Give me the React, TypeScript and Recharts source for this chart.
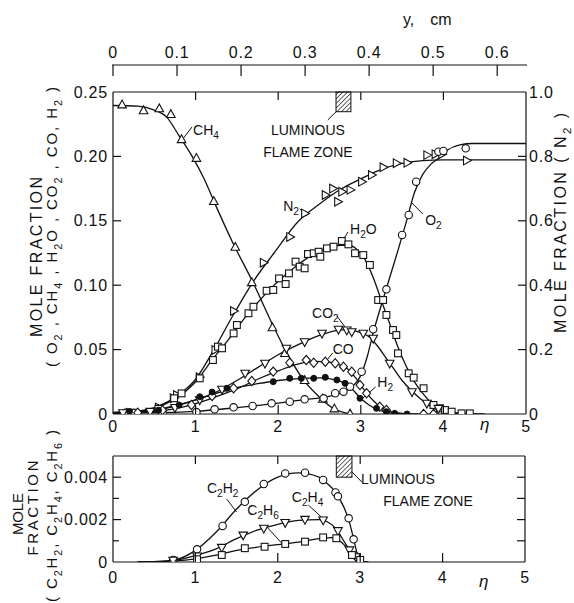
import React from 'react';
import {
  ComposedChart,
  Line,
  Scatter,
  XAxis,
  YAxis,
  ReferenceArea,
  ReferenceLine,
  ReferenceDot,
} from 'recharts';

const FONT = '"Liberation Sans", Arial, sans-serif';
const INK = '#111';

type Pt = [number, number];

// axis ticks
const etaTicks = [0, 1, 2, 3, 4, 5];
const cmTicks = [0, 0.1, 0.2, 0.3, 0.4, 0.5, 0.6];
const upperLeftTicks = [0, 0.05, 0.1, 0.15, 0.2, 0.25];
const upperRightTicks = [0, 0.2, 0.4, 0.6, 0.8, 1.0];
const lowerTicks = [0, 0.001, 0.002, 0.003, 0.004];
const lowerLabelled = [0, 0.002, 0.004];
const lowerRightTicks = [0.001, 0.002, 0.003, 0.004];

// upper plot: eta vs mole fraction (faired curve + measured points)
const ch4Curve: Pt[] = [[0, 0.2395], [0.3, 0.239], [0.5, 0.236], [0.65, 0.2305], [0.8, 0.216], [0.95, 0.201], [1.1, 0.183], [1.25, 0.161], [1.45, 0.133], [1.7, 0.1015], [1.95, 0.067], [2.1, 0.048], [2.3, 0.027], [2.5, 0.013], [2.65, 0.005], [2.8, 0.001], [2.9, 0]];
const ch4Pts: Pt[] = [[0.11, 0.24], [0.37, 0.2355], [0.56, 0.237], [0.7, 0.2325], [0.83, 0.213], [1.01, 0.1985], [1.22, 0.165], [1.48, 0.1295], [1.68, 0.102], [1.93, 0.067], [2.08, 0.047], [2.32, 0.026], [2.54, 0.0115], [2.68, 0.004], [2.87, 0]];

const n2Curve: Pt[] = [[0, 0.005], [0.25, 0.008], [0.5, 0.02], [0.7, 0.043], [0.85, 0.07], [1.0, 0.108], [1.2, 0.19], [1.45, 0.305], [1.7, 0.412], [1.95, 0.5], [2.25, 0.6], [2.5, 0.652], [2.75, 0.697], [3.0, 0.73], [3.25, 0.76], [3.5, 0.778], [3.75, 0.787], [4.0, 0.789], [5, 0.789]];
const n2Pts: Pt[] = [[0.2, 0.004], [0.55, 0.02], [0.73, 0.049], [0.77, 0.059], [1.045, 0.114], [1.235, 0.199], [1.46, 0.32], [1.82, 0.47], [2.14, 0.55], [2.32, 0.623], [2.57, 0.68], [2.66, 0.7], [2.72, 0.659], [2.77, 0.69], [2.87, 0.696], [3.01, 0.721], [3.13, 0.742], [3.27, 0.766], [3.43, 0.779], [3.56, 0.78], [3.8, 0.804], [3.9, 0.807], [3.98, 0.807], [4.28, 0.787]];

const h2oCurve: Pt[] = [[0, 0.001], [0.3, 0.002], [0.5, 0.004], [0.7, 0.01], [0.85, 0.016], [1.0, 0.025], [1.2, 0.042], [1.4, 0.058], [1.6, 0.075], [1.8, 0.09], [2.0, 0.103], [2.2, 0.114], [2.4, 0.123], [2.6, 0.1285], [2.75, 0.131], [2.85, 0.131], [2.95, 0.128], [3.05, 0.12], [3.15, 0.106], [3.25, 0.088], [3.35, 0.07], [3.45, 0.052], [3.55, 0.037], [3.65, 0.025], [3.75, 0.016], [3.85, 0.009], [3.95, 0.005], [4.1, 0.0015], [4.3, 0.0003], [4.5, 0]];
const h2oPts: Pt[] = [[0.25, 0.001], [0.55, 0.004], [0.74, 0.0122], [0.83, 0.016], [1.05, 0.0277], [1.21, 0.0419], [1.27, 0.0523], [1.32, 0.051], [1.46, 0.0626], [1.5, 0.0691], [1.64, 0.0782], [1.7, 0.0833], [1.86, 0.0957], [1.94, 0.0963], [2.01, 0.1053], [2.09, 0.1009], [2.13, 0.1092], [2.21, 0.1183], [2.26, 0.1144], [2.32, 0.1131], [2.36, 0.1242], [2.43, 0.1248], [2.49, 0.126], [2.51, 0.1221], [2.59, 0.1286], [2.67, 0.1299], [2.77, 0.1343], [2.85, 0.1317], [2.93, 0.1248], [3.03, 0.1234], [3.11, 0.1157], [3.21, 0.0885], [3.27, 0.0885], [3.31, 0.0769], [3.39, 0.0652], [3.43, 0.0613], [3.45, 0.0471], [3.58, 0.0316], [3.64, 0.0282], [3.76, 0.02], [3.88, 0.007], [3.96, 0.0044], [4.02, 0.0031], [4.1, 0.0018], [4.22, 0.0005], [4.32, 0.0005]];

const o2Curve: Pt[] = [[0, 0.001], [0.5, 0.001], [1.0, 0.002], [1.5, 0.005], [2.0, 0.0085], [2.3, 0.011], [2.6, 0.0135], [2.8, 0.0175], [2.9, 0.0215], [3.0, 0.03], [3.08, 0.045], [3.15, 0.063], [3.25, 0.085], [3.35, 0.106], [3.45, 0.127], [3.55, 0.149], [3.65, 0.172], [3.75, 0.186], [3.85, 0.194], [3.95, 0.199], [4.05, 0.205], [4.2, 0.209], [4.35, 0.21], [5, 0.21]];
const o2Pts: Pt[] = [[0.15, 0.001], [0.25, 0.0008], [0.6, 0.001], [1.01, 0.0015], [1.23, 0.0036], [1.46, 0.0052], [1.69, 0.0062], [1.92, 0.0083], [2.14, 0.0095], [2.32, 0.0114], [2.55, 0.0122], [2.69, 0.0161], [2.79, 0.0173], [2.87, 0.0212], [3.01, 0.0328], [3.15, 0.0658], [3.31, 0.0968], [3.5, 0.139], [3.58, 0.1545], [3.67, 0.1804], [3.94, 0.2037], [4.0, 0.2042], [4.27, 0.2063]];

const co2Curve: Pt[] = [[0, 0.001], [0.5, 0.003], [0.75, 0.006], [1.0, 0.011], [1.25, 0.017], [1.5, 0.026], [1.75, 0.036], [2.0, 0.046], [2.25, 0.054], [2.5, 0.061], [2.7, 0.0648], [2.85, 0.0655], [3.0, 0.063], [3.1, 0.06], [3.2, 0.053], [3.3, 0.044], [3.4, 0.035], [3.5, 0.026], [3.6, 0.019], [3.7, 0.013], [3.8, 0.008], [3.9, 0.004], [4.0, 0.002], [4.2, 0.0003], [4.4, 0]];
const co2Pts: Pt[] = [[0.12, 0.001], [0.45, 0.002], [0.75, 0.005], [1.05, 0.011], [1.32, 0.0192], [1.6, 0.0316], [1.84, 0.0394], [2.1, 0.051], [2.32, 0.0561], [2.53, 0.0627], [2.73, 0.0658], [2.83, 0.0652], [2.89, 0.0639], [3.03, 0.0627], [3.15, 0.0588], [3.35, 0.0394], [3.62, 0.0173], [3.8, 0.0083], [3.94, 0.0044]];

const coCurve: Pt[] = [[0, 0], [0.5, 0.002], [0.75, 0.004], [1.0, 0.008], [1.25, 0.0135], [1.5, 0.0195], [1.75, 0.027], [2.0, 0.0335], [2.25, 0.039], [2.45, 0.0408], [2.6, 0.0405], [2.75, 0.038], [2.85, 0.0345], [2.95, 0.027], [3.05, 0.018], [3.15, 0.0105], [3.25, 0.005], [3.35, 0.002], [3.5, 0.0005], [3.7, 0]];
const coPts: Pt[] = [[0.3, 0.001], [0.6, 0.003], [0.95, 0.007], [1.2, 0.014], [1.46, 0.02], [1.68, 0.0256], [1.94, 0.0329], [2.14, 0.0398], [2.34, 0.0419], [2.43, 0.0398], [2.57, 0.0406], [2.69, 0.0394], [2.79, 0.0367], [2.89, 0.0328], [2.99, 0.0225], [3.07, 0.0161], [3.23, 0.0057], [3.31, 0.0031], [3.76, 0], [3.88, 0]];

const h2Curve: Pt[] = [[0, 0], [0.5, 0.003], [0.75, 0.0065], [1.0, 0.011], [1.25, 0.016], [1.5, 0.0205], [1.75, 0.0235], [2.0, 0.026], [2.25, 0.0275], [2.5, 0.028], [2.65, 0.027], [2.8, 0.024], [2.9, 0.019], [3.0, 0.012], [3.1, 0.007], [3.2, 0.0035], [3.3, 0.0015], [3.45, 0.0003], [3.6, 0]];
const h2Pts: Pt[] = [[0.2, 0.002], [0.55, 0.003], [0.8, 0.007], [1.05, 0.0134], [1.2, 0.017], [1.38, 0.02], [1.94, 0.0251], [2.14, 0.0277], [2.28, 0.0277], [2.43, 0.0277], [2.57, 0.0285], [2.71, 0.0264], [2.81, 0.0238], [2.99, 0.0122], [3.19, 0.0044], [3.31, 0.0018], [3.41, 0.0005], [3.56, 0]];

// lower plot: C2 hydrocarbons
const c2h2Curve: Pt[] = [[0.3, 0], [0.5, 0.00002], [0.75, 0.0001], [1.0, 0.00055], [1.25, 0.0014], [1.5, 0.0025], [1.75, 0.0034], [2.0, 0.004], [2.25, 0.0042], [2.5, 0.004], [2.6, 0.0037], [2.7, 0.0033], [2.8, 0.0026], [2.86, 0.002], [2.92, 0.0011], [2.97, 0.0003], [3.02, 0.00003], [3.1, 0]];
const c2h2Pts: Pt[] = [[0.73, 0.0001], [1.02, 0.0006], [1.33, 0.0017], [1.6, 0.00284], [1.83, 0.00368], [2.09, 0.00418], [2.33, 0.00421], [2.55, 0.00387], [2.7, 0.00328], [2.73, 0.0031], [2.86, 0.00206], [2.92, 0.00107], [2.96, 0.00025]];

const c2h4Curve: Pt[] = [[0.3, 0], [0.5, 0.00001], [0.75, 0.00008], [1.0, 0.0003], [1.25, 0.00062], [1.5, 0.0011], [1.75, 0.0015], [2.0, 0.00178], [2.25, 0.00196], [2.5, 0.002], [2.6, 0.0019], [2.7, 0.0016], [2.8, 0.001], [2.88, 0.0005], [2.95, 0.0001], [3.0, 0]];
const c2h4Pts: Pt[] = [[0.73, 0.00008], [1.02, 0.00028], [1.32, 0.00069], [1.58, 0.00127], [1.83, 0.00159], [2.09, 0.00186], [2.33, 0.00201], [2.55, 0.00198], [2.73, 0.00148], [2.87, 0.00057], [2.95, 0.00025]];

const c2h6Curve: Pt[] = [[0.3, 0], [0.5, 0.00001], [0.75, 0.00005], [1.0, 0.00015], [1.25, 0.00032], [1.5, 0.00055], [1.75, 0.0007], [2.0, 0.00082], [2.25, 0.00094], [2.5, 0.0011], [2.65, 0.00115], [2.75, 0.001], [2.85, 0.0006], [2.92, 0.0002], [2.98, 0.00003], [3.05, 0]];
const c2h6Pts: Pt[] = [[1.02, 0.00013], [1.32, 0.00033], [1.6, 0.00065], [1.84, 0.00072], [2.09, 0.00085], [2.33, 0.00096], [2.55, 0.00116], [2.71, 0.00112], [2.9, 0.00033], [3.0, 0.0001]];

const upperSeries = [
  { name: 'ch4', curve: ch4Curve, pts: ch4Pts, mark: 'triUp', axis: 'left' },
  { name: 'n2', curve: n2Curve, pts: n2Pts, mark: 'triRight', axis: 'right' },
  { name: 'h2o', curve: h2oCurve, pts: h2oPts, mark: 'square', axis: 'left' },
  { name: 'o2', curve: o2Curve, pts: o2Pts, mark: 'circle', axis: 'left' },
  { name: 'co2', curve: co2Curve, pts: co2Pts, mark: 'triDown', axis: 'left' },
  { name: 'co', curve: coCurve, pts: coPts, mark: 'diamond', axis: 'left' },
  { name: 'h2', curve: h2Curve, pts: h2Pts, mark: 'dot', axis: 'left' },
];

const lowerSeries = [
  { name: 'c2h2', curve: c2h2Curve, pts: c2h2Pts, mark: 'circle' },
  { name: 'c2h4', curve: c2h4Curve, pts: c2h4Pts, mark: 'triDown' },
  { name: 'c2h6', curve: c2h6Curve, pts: c2h6Pts, mark: 'square' },
];

// annotation placement (data coordinates)
const upperNotes = [
  { text: 'CH_4', at: [0.97, 0.2205], lead: [[0.835, 0.2127], [0.956, 0.2228]] },
  { text: 'N_2', at: [2.06, 0.1615], lead: [[2.26, 0.1592], [2.35, 0.1537]] },
  { text: 'H_2O', at: [2.87, 0.1436], lead: [[2.845, 0.1413], [2.76, 0.1328]] },
  { text: 'O_2', at: [3.78, 0.1506], lead: [[3.75, 0.1553], [3.62, 0.1638]] },
  { text: 'CO_2', at: [2.41, 0.0784], lead: [[2.71, 0.0761], [2.81, 0.0675]] },
  { text: 'CO', at: [2.66, 0.0505], lead: [[2.66, 0.0474], [2.58, 0.0411]] },
  { text: 'H_2', at: [3.2, 0.0248], lead: [[3.18, 0.021], [3.01, 0.0116]] },
];
const lowerNotes = [
  { text: 'C_2H_2', at: [1.14, 0.00349], lead: [[1.38, 0.00297], [1.5, 0.00236]] },
  { text: 'C_2H_6', at: [1.63, 0.00245], lead: [[1.88, 0.0016], [2.09, 0.00071]] },
  { text: 'C_2H_4', at: [2.17, 0.00307], lead: [[2.37, 0.00269], [2.54, 0.00208]] },
];

const xy = (a: Pt[]) => a.map(([x, y]) => ({ x, y }));

function chemSpans(text: string, size: number) {
  const parts: { t: string; sub: boolean }[] = [];
  let buf = '';
  for (let i = 0; i < text.length; i++) {
    if (text[i] === '_') {
      if (buf) parts.push({ t: buf, sub: false });
      buf = '';
      parts.push({ t: text[i + 1], sub: true });
      i++;
    } else buf += text[i];
  }
  if (buf) parts.push({ t: buf, sub: false });
  let cur = 0;
  const shift = Math.round(size * 0.3);
  return parts.map((p, i) => {
    const target = p.sub ? shift : 0;
    const dy = target - cur;
    cur = target;
    return (
      <tspan key={i} dy={dy} fontSize={p.sub ? size * 0.72 : size}>
        {p.t}
      </tspan>
    );
  });
}

function ChemText({ x, y, text, size = 14, anchor = 'start' }: any) {
  return (
    <text x={x} y={y} fontFamily={FONT} fontSize={size} fill={INK} textAnchor={anchor}>
      {chemSpans(text, size)}
    </text>
  );
}

function VText({ x, y, text, size, length }: any) {
  return (
    <text
      x={x}
      y={y}
      transform={`rotate(-90 ${x} ${y})`}
      textAnchor="middle"
      fontFamily={FONT}
      fontSize={size}
      fill={INK}
      textLength={length}
      lengthAdjust="spacing"
    >
      {chemSpans(text, size)}
    </text>
  );
}

function Marker({ cx, cy, kind }: any) {
  if (cx == null || cy == null) return null;
  const s = { stroke: INK, strokeWidth: 1.1, fill: '#fff' };
  switch (kind) {
    case 'circle':
      return <circle cx={cx} cy={cy} r={3.7} {...s} />;
    case 'dot':
      return <circle cx={cx} cy={cy} r={3} fill={INK} stroke={INK} />;
    case 'triUp':
      return <polygon points={`${cx},${cy - 4.8} ${cx - 4.3},${cy + 3} ${cx + 4.3},${cy + 3}`} {...s} />;
    case 'triDown':
      return <polygon points={`${cx},${cy + 4.8} ${cx - 4.3},${cy - 3} ${cx + 4.3},${cy - 3}`} {...s} />;
    case 'triRight':
      return <polygon points={`${cx + 4.8},${cy} ${cx - 3},${cy - 4.3} ${cx - 3},${cy + 4.3}`} {...s} />;
    case 'square':
      return <rect x={cx - 3.4} y={cy - 3.4} width={6.8} height={6.8} {...s} />;
    case 'diamond':
      return <polygon points={`${cx},${cy - 4.6} ${cx + 4},${cy} ${cx},${cy + 4.6} ${cx - 4},${cy}`} {...s} />;
    default:
      return null;
  }
}

const tickFont = { fontFamily: FONT, fontSize: 16, fill: INK, letterSpacing: 0.8 };

const leftTick = (fmt: (v: number) => string, labelled: number[] | null, top: number) => (p: any) => {
  const v = p.payload.value;
  const showLabel = !labelled || labelled.includes(v);
  const len = showLabel ? 8 : 6;
  return (
    <g>
      {v > 0 && v < top && <line x1={p.x} x2={p.x + len} y1={p.y} y2={p.y} stroke={INK} strokeWidth={1.2} />}
      {showLabel && (
        <text x={p.x - 5} y={p.y + 5.5} textAnchor="end" {...tickFont}>
          {fmt(v)}
        </text>
      )}
    </g>
  );
};

const rightTick = (fmt: ((v: number) => string) | null, top: number) => (p: any) => {
  const v = p.payload.value;
  return (
    <g>
      {v > 0 && v < top && <line x1={p.x} x2={p.x - 8} y1={p.y} y2={p.y} stroke={INK} strokeWidth={1.2} />}
      {fmt && (
        <text x={p.x + 3} y={p.y + 5.5} textAnchor="start" {...tickFont}>
          {fmt(v)}
        </text>
      )}
    </g>
  );
};

const bottomTick = (plotH: number, labelDy: number) => (p: any) => {
  const v = p.payload.value;
  const inner = v > 0 && v < 5;
  return (
    <g>
      {inner && <line x1={p.x} x2={p.x} y1={p.y} y2={p.y - 9} stroke={INK} strokeWidth={1.2} />}
      {inner && <line x1={p.x} x2={p.x} y1={p.y - plotH} y2={p.y - plotH + 8} stroke={INK} strokeWidth={1.2} />}
      <text x={p.x} y={p.y + labelDy} textAnchor="middle" {...tickFont}>
        {v}
      </text>
    </g>
  );
};

const cmTick = (p: any) => {
  const v = p.payload.value;
  return (
    <g>
      <line x1={p.x} x2={p.x} y1={p.y - 27} y2={p.y - 16} stroke={INK} strokeWidth={1.2} />
      <text x={p.x} y={p.y - 34} textAnchor="middle" {...tickFont}>
        {v === 0 ? '0' : v.toFixed(1)}
      </text>
    </g>
  );
};

const vbOf = (p: any) => p.viewBox || { x: 0, y: 0, width: 0, height: 0 };

const cmLabel = (p: any) => {
  const vb = vbOf(p);
  const ly = vb.y + vb.height - 27;
  return (
    <g>
      <line x1={vb.x - 1} x2={vb.x + vb.width + 1} y1={ly} y2={ly} stroke={INK} strokeWidth={1.2} />
      <text x={vb.x + vb.width * 0.702} y={vb.y + 25} fontFamily={FONT} fontSize={16} fill={INK}>
        <tspan>y,</tspan>
        <tspan dx={16}>cm</tspan>
      </text>
    </g>
  );
};

const etaLabel = (dy: number) => (p: any) => {
  const vb = vbOf(p);
  return (
    <text x={vb.x + vb.width * 0.9} y={vb.y + dy} textAnchor="middle" fontFamily={FONT} fontSize={17} fontStyle="italic" fill={INK}>
      η
    </text>
  );
};

const upperLeftTitle = (p: any) => {
  const vb = vbOf(p);
  return (
    <g>
      <VText x={vb.x + 42} y={vb.y + 165} text="MOLE FRACTION" size={16} length={160} />
      <VText x={vb.x + 57} y={vb.y + 135} text="( O_2 , CH_4 , H_2O , CO_2 , CO, H_2 )" size={15} length={280} />
    </g>
  );
};

const upperRightTitle = (p: any) => {
  const vb = vbOf(p);
  return <VText x={vb.x + 40} y={vb.y + 131} text="MOLE FRACTION ( N_2 )" size={16} length={220} />;
};

const lowerLeftTitle = (p: any) => {
  const vb = vbOf(p);
  return (
    <g>
      <VText x={vb.x + 23} y={vb.y + 58} text="MOLE" size={15} length={42} />
      <VText x={vb.x + 38} y={vb.y + 52} text="FRACTION" size={15} length={95} />
      <VText x={vb.x + 57} y={vb.y + 60} text="( C_2H_2, C_2H_4, C_2H_6 )" size={15} length={172} />
    </g>
  );
};

const hatchShape = (id: string) => (p: any) => (
  <g>
    <defs>
      <pattern id={id} width={3.2} height={3.2} patternUnits="userSpaceOnUse" patternTransform="rotate(45)">
        <line x1={0} y1={0} x2={0} y2={3.2} stroke={INK} strokeWidth={1.3} />
      </pattern>
    </defs>
    <rect x={p.x} y={p.y} width={p.width} height={p.height} fill={`url(#${id})`} stroke={INK} strokeWidth={1} />
  </g>
);

function renderNotes(notes: any[], yId: string, keyBase: string) {
  return notes.flatMap((n, i) => [
    <ReferenceLine
      key={`${keyBase}l${i}`}
      xAxisId="eta"
      yAxisId={yId}
      segment={[{ x: n.lead[0][0], y: n.lead[0][1] }, { x: n.lead[1][0], y: n.lead[1][1] }]}
      stroke={INK}
      strokeWidth={1}
    />,
    <ReferenceDot
      key={`${keyBase}t${i}`}
      xAxisId="eta"
      yAxisId={yId}
      x={n.at[0]}
      y={n.at[1]}
      r={0}
      shape={(p: any) => <ChemText x={p.cx} y={p.cy + 5} text={n.text} />}
    />,
  ]);
}

const textDot = (key: string, yId: string, x: number, y: number, text: string, anchor: string) => (
  <ReferenceDot
    key={key}
    xAxisId="eta"
    yAxisId={yId}
    x={x}
    y={y}
    r={0}
    shape={(p: any) => <ChemText x={p.cx} y={p.cy + 5} text={text} anchor={anchor} />}
  />
);

export default function App() {
  const lineProps = {
    dataKey: 'y',
    type: 'monotone' as const,
    stroke: INK,
    strokeWidth: 1.3,
    dot: false,
    activeDot: false,
    isAnimationActive: false,
  };
  return (
    <div style={{ position: 'absolute', left: 0, top: 0, width: 574, height: 603, background: '#fff', overflow: 'hidden' }}>
      <div style={{ position: 'absolute', left: 0, top: 0 }}>
        <ComposedChart width={574} height={440} margin={{ top: 0, right: 0, bottom: 0, left: 0 }}>
          <XAxis
            xAxisId="eta"
            dataKey="x"
            type="number"
            domain={[0, 5]}
            ticks={etaTicks}
            interval={0}
            allowDataOverflow
            height={26}
            tickSize={0}
            tickMargin={0}
            axisLine={{ stroke: INK, strokeWidth: 1.2 }}
            tick={bottomTick(322, 18)}
            label={{ content: etaLabel(16) }}
          />
          <XAxis
            xAxisId="cm"
            dataKey="x"
            orientation="top"
            type="number"
            domain={[0, 0.645]}
            ticks={cmTicks}
            interval={0}
            allowDataOverflow
            height={92}
            tickSize={0}
            tickMargin={0}
            axisLine={{ stroke: INK, strokeWidth: 1.2 }}
            tick={cmTick}
            label={{ content: cmLabel }}
          />
          <YAxis
            yAxisId="left"
            type="number"
            domain={[0, 0.25]}
            ticks={upperLeftTicks}
            interval={0}
            allowDataOverflow
            width={113}
            tickSize={0}
            tickMargin={0}
            axisLine={{ stroke: INK, strokeWidth: 1.2 }}
            tick={leftTick((v) => (v === 0 ? '0' : v.toFixed(2)), null, 0.25)}
            label={{ content: upperLeftTitle }}
          />
          <YAxis
            yAxisId="right"
            orientation="right"
            type="number"
            domain={[0, 1]}
            ticks={upperRightTicks}
            interval={0}
            allowDataOverflow
            width={48}
            tickSize={0}
            tickMargin={0}
            axisLine={{ stroke: INK, strokeWidth: 1.2 }}
            tick={rightTick((v) => (v === 0 ? '0' : v.toFixed(1)), 1)}
            label={{ content: upperRightTitle }}
          />

          {/* invisible anchor so the cm axis gets a scale */}
          <Scatter
            xAxisId="cm"
            yAxisId="left"
            data={cmTicks.map((v) => ({ x: v, y: 0 }))}
            dataKey="y"
            shape={() => <g />}
            isAnimationActive={false}
          />

          <ReferenceArea
            xAxisId="eta"
            yAxisId="left"
            x1={2.7}
            x2={2.88}
            y1={0.2347}
            y2={0.25}
            shape={hatchShape('hatchUpper')}
          />
          {textDot('lum1', 'left', 2.36, 0.2205, 'LUMINOUS', 'middle')}
          {textDot('lum2', 'left', 2.36, 0.2034, 'FLAME ZONE', 'middle')}
          <ReferenceLine
            xAxisId="eta"
            yAxisId="left"
            segment={[{ x: 2.6, y: 0.2283 }, { x: 2.71, y: 0.2352 }]}
            stroke={INK}
            strokeWidth={1}
          />

          {upperSeries.map((s) => (
            <Line key={`${s.name}c`} xAxisId="eta" yAxisId={s.axis} data={xy(s.curve)} {...lineProps} />
          ))}
          {upperSeries.map((s) => (
            <Scatter
              key={`${s.name}p`}
              xAxisId="eta"
              yAxisId={s.axis}
              data={xy(s.pts)}
              dataKey="y"
              shape={(p: any) => <Marker cx={p.cx} cy={p.cy} kind={s.mark} />}
              isAnimationActive={false}
            />
          ))}
          {renderNotes(upperNotes, 'left', 'u')}
        </ComposedChart>
      </div>

      <div style={{ position: 'absolute', left: 0, top: 420 }}>
        <ComposedChart width={574} height={183} margin={{ top: 36, right: 0, bottom: 0, left: 0 }}>
          <XAxis
            xAxisId="eta"
            dataKey="x"
            type="number"
            domain={[0, 5]}
            ticks={etaTicks}
            interval={0}
            allowDataOverflow
            height={41}
            tickSize={0}
            tickMargin={0}
            axisLine={{ stroke: INK, strokeWidth: 1.2 }}
            tick={bottomTick(106, 21)}
            label={{ content: etaLabel(25) }}
          />
          <YAxis
            yAxisId="left"
            type="number"
            domain={[0, 0.005]}
            ticks={lowerTicks}
            interval={0}
            allowDataOverflow
            width={113}
            tickSize={0}
            tickMargin={0}
            axisLine={{ stroke: INK, strokeWidth: 1.2 }}
            tick={leftTick((v) => (v === 0 ? '0' : v.toFixed(3)), lowerLabelled, 0.005)}
            label={{ content: lowerLeftTitle }}
          />
          <YAxis
            yAxisId="r"
            orientation="right"
            type="number"
            domain={[0, 0.005]}
            ticks={lowerRightTicks}
            interval={0}
            allowDataOverflow
            width={49}
            tickSize={0}
            tickMargin={0}
            axisLine={{ stroke: INK, strokeWidth: 1.2 }}
            tick={rightTick(null, 0.005)}
          />
          <ReferenceLine xAxisId="eta" yAxisId="left" y={0.005} stroke={INK} strokeWidth={1.2} />

          <ReferenceArea
            xAxisId="eta"
            yAxisId="left"
            x1={2.71}
            x2={2.9}
            y1={0.004}
            y2={0.005}
            shape={hatchShape('hatchLower')}
          />
          {textDot('llum1', 'left', 3.01, 0.00392, 'LUMINOUS', 'start')}
          {textDot('llum2', 'left', 3.28, 0.00288, 'FLAME ZONE', 'start')}
          <ReferenceLine
            xAxisId="eta"
            yAxisId="left"
            segment={[{ x: 2.9, y: 0.00425 }, { x: 3.02, y: 0.00377 }]}
            stroke={INK}
            strokeWidth={1}
          />

          {lowerSeries.map((s) => (
            <Line key={`${s.name}c`} xAxisId="eta" yAxisId="left" data={xy(s.curve)} {...lineProps} />
          ))}
          {lowerSeries.map((s) => (
            <Scatter
              key={`${s.name}p`}
              xAxisId="eta"
              yAxisId="left"
              data={xy(s.pts)}
              dataKey="y"
              shape={(p: any) => <Marker cx={p.cx} cy={p.cy} kind={s.mark} />}
              isAnimationActive={false}
            />
          ))}
          {renderNotes(lowerNotes, 'left', 'l')}
        </ComposedChart>
      </div>
    </div>
  );
}
